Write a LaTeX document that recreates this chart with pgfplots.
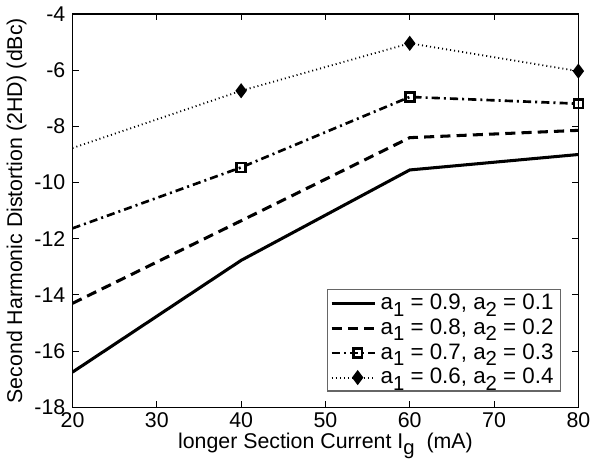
\documentclass[border=0pt]{standalone}
\usepackage{pgfplots}
\pgfplotsset{compat=1.18}
\usepackage{fontspec}
\setmainfont{Liberation Sans}
\newcommand\sub[1]{\raisebox{-0.55ex}{\fontsize{10}{11}\selectfont #1}}
\begin{document}
\begin{tikzpicture}
\begin{axis}[
  width=249pt, height=193.5pt, scale only axis,
  xmin=20, xmax=80, ymin=-18, ymax=-4,
  xtick={20,30,...,80}, ytick={-18,-16,...,-4},
  tick align=inside, major tick length=3pt,
  tick style={black, line width=0.5pt},
  axis line style={black, line width=0.6pt},
  /pgf/number format/assume math mode=true,
  ticklabel style={font=\fontsize{10.5}{12}\selectfont},
  xticklabel style={yshift=1pt},
  label style={font=\fontsize{10.5}{12}\selectfont},
  xlabel={longer Section Current I\sub{g}\ \ (mA)},
  ylabel={Second Harmonic Distortion (2HD) (dBc)},
  xlabel style={yshift=4pt},
  ylabel style={yshift=-3pt},
  legend style={at={(0.966,0.04)}, anchor=south east, draw=black!60, line width=0.5pt,
    font=\fontsize{11}{12}\selectfont, row sep=-1pt, inner sep=1.5pt, inner ysep=0pt, cells={anchor=west}},
  legend cell align=left,
  legend image code/.code={\draw[#1] (0pt,0pt) -- (0.75cm,0pt); \draw[#1, solid, mark indices={1}] plot coordinates {(0.45cm,0pt)};},
]
\addplot[black, line width=1.5pt, solid, mark=none] coordinates {(20,-16.75) (40,-12.77) (60,-9.55) (80,-9.0)};
\addlegendentry{a\sub{1} = 0.9, a\sub{2} = 0.1}
\addplot[black, line width=1.5pt, dash pattern=on 5pt off 3pt, mark=none] coordinates {(20,-14.3) (40,-11.36) (60,-8.4) (80,-8.14)};
\addlegendentry{a\sub{1} = 0.8, a\sub{2} = 0.2}
\addplot[black, line width=1.3pt, dash pattern=on 4pt off 2pt on 1pt off 2pt, mark=square, mark size=2.2pt, mark indices={2,3,4}, mark options={solid, line width=1.3pt}] coordinates {(20,-11.63) (40,-9.46) (60,-6.95) (80,-7.19)};
\addlegendentry{a\sub{1} = 0.7, a\sub{2} = 0.3}
\addplot[black, line width=0.9pt, dash pattern=on 0.5pt off 1.5pt, mark=diamond*, mark size=3pt, mark indices={2,3,4}, mark options={solid}] coordinates {(20,-8.77) (40,-6.73) (60,-5.04) (80,-6.03)};
\addlegendentry{a\sub{1} = 0.6, a\sub{2} = 0.4}
\end{axis}
\end{tikzpicture}
\end{document}
